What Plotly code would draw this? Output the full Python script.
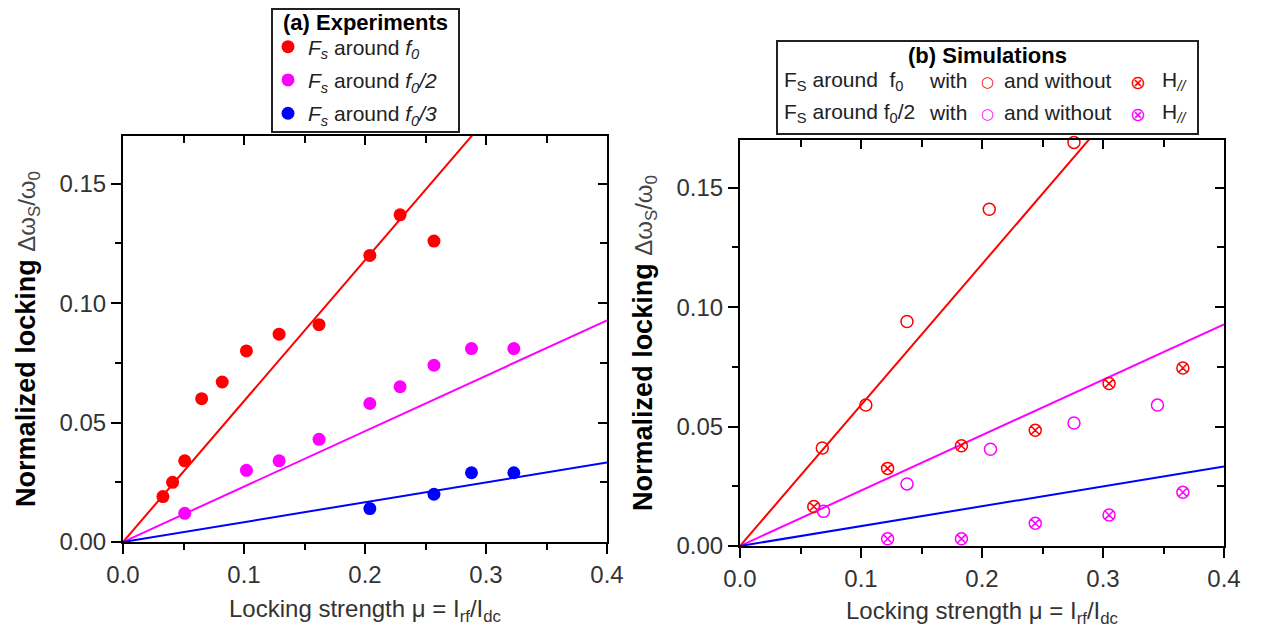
import plotly.graph_objects as go

# Page body has an 8px margin; the figure starts 8px from the window edges.
OFF = 8
W, H = 1262 - 2 * OFF, 628 - OFF
FONT = "Liberation Sans, Arial, sans-serif"

def xp(p):
    return (p - OFF) / W

def yp(p):
    return 1 - (p - OFF) / H

# ---------------- data ----------------
# (a) experiments
exp_x_f0 = [0.033, 0.041, 0.051, 0.065, 0.082, 0.102, 0.129, 0.162, 0.204, 0.229, 0.257]
exp_y_f0 = [0.019, 0.025, 0.034, 0.060, 0.067, 0.080, 0.087, 0.091, 0.120, 0.137, 0.126]
exp_x_f02 = [0.051, 0.102, 0.129, 0.162, 0.204, 0.229, 0.257, 0.288, 0.323]
exp_y_f02 = [0.012, 0.030, 0.034, 0.043, 0.058, 0.065, 0.074, 0.081, 0.081]
exp_x_f03 = [0.204, 0.257, 0.288, 0.323]
exp_y_f03 = [0.014, 0.020, 0.029, 0.029]

# linear fits (same in both panels)
fit_x = [0.0, 0.4]
fit_y_f0 = [0.0, 0.236]
fit_y_f02 = [0.0, 0.0928]
fit_y_f03 = [0.0, 0.0333]

# (b) simulations
sim_x_f0_with = [0.068, 0.104, 0.138, 0.206, 0.276]
sim_y_f0_with = [0.041, 0.059, 0.094, 0.141, 0.169]
sim_x_f0_without = [0.061, 0.122, 0.183, 0.244, 0.305, 0.366]
sim_y_f0_without = [0.0165, 0.0325, 0.042, 0.0485, 0.068, 0.0745]
sim_x_f02_with = [0.069, 0.138, 0.207, 0.276, 0.345]
sim_y_f02_with = [0.0145, 0.026, 0.0405, 0.0515, 0.059]
sim_x_f02_without = [0.122, 0.183, 0.244, 0.305, 0.366]
sim_y_f02_without = [0.003, 0.003, 0.0095, 0.013, 0.0225]

x_range = [0.0, 0.4]
y_range = [0.0, 0.17]
x_tickvals = [0.0, 0.1, 0.2, 0.3, 0.4]
y_tickvals = [0.00, 0.05, 0.10, 0.15]

RED, MAG, BLUE = "#FF0000", "#FF00FF", "#0000FF"

legend_names = [
    "<i>F</i><sub><i>s</i></sub> around <i>f</i><sub><i>0</i></sub>",
    "<i>F</i><sub><i>s</i></sub> around <i>f</i><sub><i>0</i></sub><i>/2</i>",
    "<i>F</i><sub><i>s</i></sub> around <i>f</i><sub><i>0</i></sub><i>/3</i>",
]

fig = go.Figure()

# ---------- panel (a) ----------
for fy, c in [(fit_y_f0, RED), (fit_y_f02, MAG), (fit_y_f03, BLUE)]:
    fig.add_trace(go.Scatter(x=fit_x, y=fy, mode="lines", line=dict(color=c, width=2),
                             showlegend=False, hoverinfo="skip", xaxis="x", yaxis="y"))
for i, (xs, ys, c) in enumerate([(exp_x_f0, exp_y_f0, RED), (exp_x_f02, exp_y_f02, MAG),
                                  (exp_x_f03, exp_y_f03, BLUE)]):
    fig.add_trace(go.Scatter(x=xs, y=ys, mode="markers", name=legend_names[i],
                             legendgroup="g%d" % i,
                             marker=dict(color=c, size=13, symbol="circle"),
                             xaxis="x", yaxis="y"))

# ---------- panel (b) ----------
for fy, c in [(fit_y_f0, RED), (fit_y_f02, MAG), (fit_y_f03, BLUE)]:
    fig.add_trace(go.Scatter(x=fit_x, y=fy, mode="lines", line=dict(color=c, width=2),
                             showlegend=False, hoverinfo="skip", xaxis="x2", yaxis="y2"))
for xs, ys, c, sym in [(sim_x_f0_with, sim_y_f0_with, RED, "circle-open"),
                       (sim_x_f0_without, sim_y_f0_without, RED, "circle-x-open"),
                       (sim_x_f02_with, sim_y_f02_with, MAG, "circle-open"),
                       (sim_x_f02_without, sim_y_f02_without, MAG, "circle-x-open")]:
    fig.add_trace(go.Scatter(x=xs, y=ys, mode="markers", showlegend=False,
                             marker=dict(color=c, size=12, symbol=sym, line=dict(width=1.5, color=c)),
                             cliponaxis=False, xaxis="x2", yaxis="y2"))

# invisible traces so the mirrored (inside-tick) axes get drawn
for xa, ya in [("x3", "y3"), ("x4", "y4")]:
    fig.add_trace(go.Scatter(x=[0.2], y=[0.05], mode="markers", showlegend=False,
                             marker=dict(opacity=0), hoverinfo="skip", xaxis=xa, yaxis=ya))

tickfont = dict(family=FONT, size=24, color="#333333")

def main_x(domain, anchor, title_text):
    return dict(domain=domain, anchor=anchor, range=x_range, tickvals=x_tickvals, tickformat=".1f",
                showline=True, linewidth=2, linecolor="black", mirror=True,
                ticks="outside", ticklen=10, tickwidth=2, tickcolor="black",
                minor=dict(ticks="outside", ticklen=6, tickwidth=2, tickcolor="black", dtick=0.05),
                showgrid=False, zeroline=False, tickfont=tickfont, automargin=False,
                title=dict(text=title_text, standoff=13,
                           font=dict(family=FONT, size=24, color="#333333")))

def main_y(domain, anchor, title_text):
    return dict(domain=domain, anchor=anchor, range=y_range, tickvals=y_tickvals, tickformat=".2f",
                showline=True, linewidth=2, linecolor="black", mirror=True,
                ticks="outside", ticklen=10, tickwidth=2, tickcolor="black",
                minor=dict(ticks="outside", ticklen=6, tickwidth=2, tickcolor="black", dtick=0.025),
                showgrid=False, zeroline=False, tickfont=tickfont, automargin=False,
                title=dict(text=title_text, standoff=16,
                           font=dict(family=FONT, size=27, color="black")))

def over_x(over, anchor):
    return dict(overlaying=over, anchor=anchor, side="top", range=x_range, tickvals=x_tickvals,
                showline=False, ticks="inside", ticklen=9, tickwidth=2, tickcolor="black",
                minor=dict(ticks="inside", ticklen=7, tickwidth=2, tickcolor="black", dtick=0.05),
                showticklabels=False, showgrid=False, zeroline=False, automargin=False)

def over_y(over, anchor):
    return dict(overlaying=over, anchor=anchor, side="right", range=y_range, tickvals=y_tickvals,
                showline=False, ticks="inside", ticklen=9, tickwidth=2, tickcolor="black",
                minor=dict(ticks="inside", ticklen=7, tickwidth=2, tickcolor="black", dtick=0.025),
                showticklabels=False, showgrid=False, zeroline=False, automargin=False)

xtitle = "Locking strength μ = I<sub>rf</sub>/I<sub>dc</sub>"
ytitle = ("<b>Normalized locking</b> <span style='font-size:24px;color:#444444'>"
          "Δω<sub>S</sub>/ω<sub>0</sub></span>")

dom_xa = [xp(123), xp(607)]
dom_ya = [yp(542), yp(136)]
dom_xb = [xp(740), xp(1224)]
dom_yb = [yp(546), yp(140)]

fig.update_layout(
    width=W, height=H,
    paper_bgcolor="white", plot_bgcolor="white",
    margin=dict(l=0, r=0, t=0, b=0),
    font=dict(family=FONT, color="#222222"),
    xaxis=main_x(dom_xa, "y", xtitle),
    yaxis=main_y(dom_ya, "x", ytitle),
    xaxis2=main_x(dom_xb, "y2", xtitle),
    yaxis2=main_y(dom_yb, "x2", ytitle),
    xaxis3=over_x("x", "y3"),
    yaxis3=over_y("y", "x3"),
    xaxis4=over_x("x2", "y4"),
    yaxis4=over_y("y2", "x4"),
    legend=dict(x=xp(268), y=yp(80), xanchor="left", yanchor="middle",
                borderwidth=0, bgcolor="rgba(0,0,0,0)",
                font=dict(family=FONT, size=21, color="#222222"),
                tracegroupgap=3, itemwidth=30),
    showlegend=True,
)

# ---------- legend frames ----------
fig.add_shape(type="rect", xref="paper", yref="paper",
              x0=xp(272), x1=xp(459), y0=yp(132), y1=yp(9),
              line=dict(color="#222222", width=2), fillcolor="white", layer="above")
fig.add_shape(type="rect", xref="paper", yref="paper",
              x0=xp(777), x1=xp(1198), y0=yp(134), y1=yp(41),
              line=dict(color="#222222", width=2), fillcolor="white", layer="above")

lf = dict(family=FONT, size=21, color="#222222")
tf = dict(family=FONT, size=22, color="black")
anns = [
    (365.5, 22, "<b>(a) Experiments</b>", "center", tf),
    (987, 55, "<b>(b) Simulations</b>", "center", tf),
    (782, 81, "F<sub>S</sub> around  f<sub>0</sub>", "left", lf),
    (782, 113, "F<sub>S</sub> around f<sub>0</sub>/2", "left", lf),
    (927, 81, "with", "left", lf),
    (927, 113, "with", "left", lf),
    (1002, 81, "and without", "left", lf),
    (1002, 113, "and without", "left", lf),
    (1160, 81, "H<sub><i>//</i></sub>", "left", lf),
    (1160, 113, "H<sub><i>//</i></sub>", "left", lf),
    (987, 82, "○", "center", dict(family="DejaVu Sans", size=15, color=RED)),
    (987, 114, "○", "center", dict(family="DejaVu Sans", size=15, color=MAG)),
    (1138, 82, "⊗", "center", dict(family="DejaVu Sans", size=19, color=RED)),
    (1138, 114, "⊗", "center", dict(family="DejaVu Sans", size=19, color=MAG)),
]
for x, y, t, anc, f in anns:
    fig.add_annotation(x=xp(x), y=yp(y), xref="paper", yref="paper", text=t,
                       showarrow=False, xanchor=anc, yanchor="middle", font=f)

fig.write_html("out.html")
